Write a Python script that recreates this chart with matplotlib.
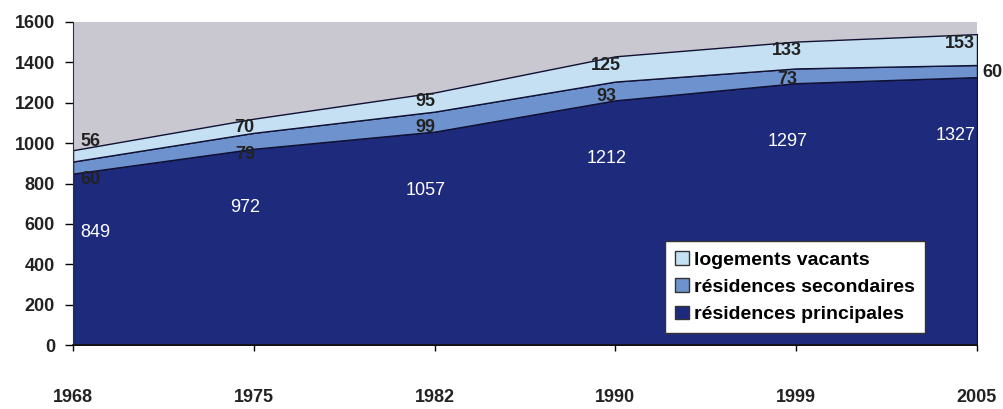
import matplotlib
matplotlib.use("Agg")
import matplotlib.pyplot as plt
import numpy as np
from matplotlib.patches import Patch

years = ["1968", "1975", "1982", "1990", "1999", "2005"]
principales = [849, 972, 1057, 1212, 1297, 1327]
secondaires = [60, 79, 99, 93, 73, 60]
vacants = [56, 70, 95, 125, 133, 153]
series_names = ["logements vacants", "résidences secondaires", "résidences principales"]

c_bg = "#c9c7d0"
c_pr = "#1e2a7c"
c_se = "#6e92cd"
c_va = "#c6e0f3"

plt.rcParams['font.family'] = ['Liberation Sans', 'DejaVu Sans']

fig = plt.figure(figsize=(10.04, 4.09), dpi=100)
ax = fig.add_axes([73/1004, 1-345/409, (977-73)/1004, (345-22)/409])

x = np.arange(len(years))
p = np.array(principales, float)
s = np.array(secondaires, float)
v = np.array(vacants, float)
b1 = p
b2 = p + s
b3 = p + s + v

ax.set_facecolor(c_bg)
ax.fill_between(x, 0, b1, facecolor=c_pr, edgecolor="#111133", linewidth=1.0, zorder=2)
ax.fill_between(x, b1, b2, facecolor=c_se, edgecolor="#111133", linewidth=1.0, zorder=2)
ax.fill_between(x, b2, b3, facecolor=c_va, edgecolor="#111133", linewidth=1.0, zorder=2)

FS = 13
ax.set_xlim(0, len(years) - 1)
ax.set_ylim(0, 1600)
ax.set_yticks(np.arange(0, 1601, 200))
ax.set_xticks(x)
ax.set_xticklabels(years)
ax.tick_params(axis='y', direction='out', length=6, width=1, labelsize=FS, pad=7)
ax.tick_params(axis='x', direction='out', length=4, width=1, labelsize=FS, pad=28)
for lab in ax.get_xticklabels() + ax.get_yticklabels():
    lab.set_fontweight('bold')
    lab.set_color('#222222')
for sp in ['top', 'right']:
    ax.spines[sp].set_visible(False)
ax.spines['left'].set_color('#333333')
ax.spines['bottom'].set_color('#111111')
ax.spines['bottom'].set_linewidth(1.2)

n = len(years)

def place(i):
    if i == 0:
        return 0.04, 'left'
    if i == n - 1:
        return n - 1 - 0.01, 'right'
    return i - 0.05, 'center'

for i in range(n):
    xx, ha = place(i)
    ax.text(xx, p[i] - 290, str(principales[i]), color='white', fontsize=FS,
            ha=ha, va='center', zorder=5)
    if i == n - 1:
        ax.text(n - 1 + 0.03, b1[i] + 25, str(secondaires[i]), color='#222222',
                fontsize=FS, fontweight='bold', ha='left', va='center', zorder=5, clip_on=False)
    else:
        off = -30 if i < 2 else 18
        ax.text(xx, b1[i] + off, str(secondaires[i]), color='#222222', fontsize=FS,
                fontweight='bold', ha=ha, va='center', zorder=5)
    voff = 45 if i == 0 else -45
    ax.text(xx, b3[i] + voff, str(vacants[i]), color='#222222', fontsize=FS,
            fontweight='bold', ha=ha, va='center', zorder=5)

handles = [Patch(facecolor=c_va, edgecolor='#333333'),
           Patch(facecolor=c_se, edgecolor='#333333'),
           Patch(facecolor=c_pr, edgecolor='#333333')]
leg = ax.legend(handles, series_names, loc='lower right',
                bbox_to_anchor=((925-73)/904, (345-333)/323),
                frameon=True, fancybox=False, framealpha=1, edgecolor='#333333',
                prop={'size': 14, 'weight': 'bold'}, handlelength=0.7, handleheight=0.7,
                handletextpad=0.3, labelspacing=0.5, borderpad=0.5, borderaxespad=0)
leg.get_frame().set_linewidth(1.0)
leg.set_zorder(6)

fig.savefig("out.png", dpi=100, facecolor='white')
